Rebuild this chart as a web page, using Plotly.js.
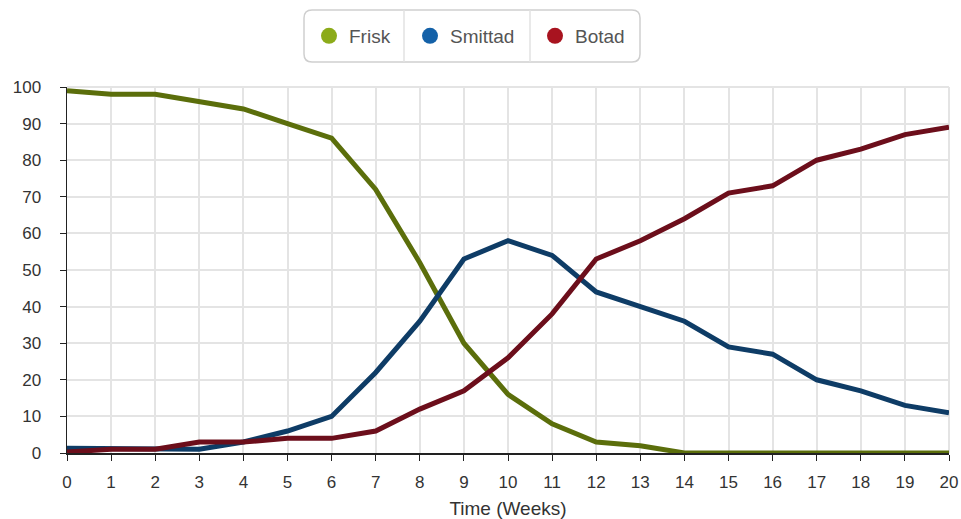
<!DOCTYPE html>
<html><head><meta charset="utf-8">
<script src="https://cdn.plot.ly/plotly-3.0.1.min.js"></script>
<style>html,body{margin:0;padding:0;background:#fff}#chart{width:961px;height:519px}</style>
</head><body><div id="chart"></div>
<script>
const weeks = [0,1,2,3,4,5,6,7,8,9,10,11,12,13,14,15,16,17,18,19,20];
const frisk = [99,98,98,96,94,90,86,72,52,30,16,8,3,2,0,0,0,0,0,0,0];
const smittad = [1.3,1.3,1,1,3,6,10,22,36,53,58,54,44,40,36,29,27,20,17,13,11];
const botad = [0.3,1,1,3,3,4,4,6,12,17,26,38,53,58,64,71,73,80,83,87,89];
const names = ['Frisk','Smittad','Botad'];
const lineColors = ['#5b6e0b','#0e3c66','#6c0e1b'];
const markerColors = ['#8cab1a','#1461a8','#a8131f'];
const series = [frisk, smittad, botad];
const legendIds = ['legend','legend2','legend3'];

const traces = [];
series.forEach((s,i)=>{
  traces.push({x:weeks,y:s,mode:'lines',name:names[i],showlegend:false,
    line:{color:lineColors[i],width:5},hoverinfo:'x+y'});
});
series.forEach((s,i)=>{
  traces.push({x:[null],y:[null],mode:'markers',name:names[i],showlegend:true,legend:legendIds[i],
    marker:{color:markerColors[i],size:17}});
});

const W=882, H=366, L=67, T=87;
const px = x => (x-L)/W, py = y => (T+H-y)/H;
const r=8, x0=px(304), x1=px(640), y0=py(62), y1=py(10);
const rx=r/W, ry=r/H;
const boxPath = `M ${x0+rx},${y1} L ${x1-rx},${y1} Q ${x1},${y1} ${x1},${y1-ry} L ${x1},${y0+ry} Q ${x1},${y0} ${x1-rx},${y0} L ${x0+rx},${y0} Q ${x0},${y0} ${x0},${y0+ry} L ${x0},${y1-ry} Q ${x0},${y1} ${x0+rx},${y1} Z`;

const legendBase = x => ({orientation:'h',xanchor:'left',yanchor:'middle',x:px(x),y:py(36),
    font:{size:19,color:'#555'},bgcolor:'rgba(0,0,0,0)',borderwidth:0,
    itemsizing:'trace'});

const layout = {
  width:961,height:519,
  margin:{l:67,r:12,t:87,b:66},
  paper_bgcolor:'#fff',plot_bgcolor:'#fff',
  font:{family:'Liberation Sans, Arial, sans-serif',color:'#333',size:17},
  showlegend:true,
  legend:legendBase(309),
  legend2:legendBase(410),
  legend3:legendBase(535),
  xaxis:{range:[0,20],tickmode:'array',tickvals:weeks,ticktext:weeks.map(String),
    showgrid:true,gridcolor:'#e4e4e4',gridwidth:2,zeroline:false,
    showline:true,linecolor:'#222',linewidth:1.5,ticks:'outside',ticklen:6,tickcolor:'#222',
    ticklabelstandoff:7,
    title:{text:'Time (Weeks)',font:{size:19,color:'#333'},standoff:12},
    tickfont:{size:17,color:'#333'},fixedrange:true,automargin:false},
  yaxis:{range:[0,100],tickvals:[0,10,20,30,40,50,60,70,80,90,100],
    showgrid:true,gridcolor:'#e4e4e4',gridwidth:2,zeroline:false,
    showline:true,linecolor:'#222',linewidth:1.5,ticks:'outside',ticklen:6,tickcolor:'#222',
    ticklabelstandoff:15,
    tickfont:{size:17,color:'#333'},fixedrange:true,automargin:false},
  shapes:[
    {type:'path',xref:'paper',yref:'paper',path:boxPath,line:{color:'#cfcfcf',width:1.5},fillcolor:'rgba(0,0,0,0)',layer:'below'},
    {type:'line',xref:'paper',yref:'paper',x0:px(404),x1:px(404),y0:y0,y1:y1,line:{color:'#e2e2e2',width:1.5}},
    {type:'line',xref:'paper',yref:'paper',x0:px(530),x1:px(530),y0:y0,y1:y1,line:{color:'#e2e2e2',width:1.5}},
    {type:'line',xref:'paper',yref:'paper',x0:1,x1:1,y0:0,y1:1,line:{color:'#e4e4e4',width:2},layer:'below'},
    {type:'line',xref:'paper',yref:'paper',x0:0,x1:1,y0:1,y1:1,line:{color:'#e4e4e4',width:2},layer:'below'}
  ]
};
Plotly.newPlot('chart',traces,layout,{displayModeBar:false,staticPlot:true});
</script></body></html>
